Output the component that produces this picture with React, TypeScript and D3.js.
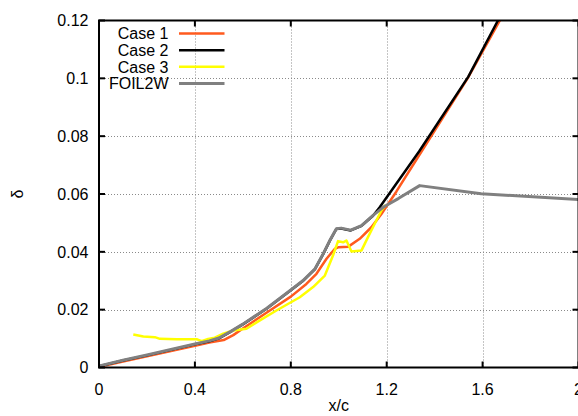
import React from "react";
import * as d3 from "d3";

// Boundary-layer thickness δ along the chord, x/c
type Pt = [number, number];

const case1: Pt[] = [
  [0, 0.0002], [0.1, 0.0021], [0.2, 0.0039], [0.3, 0.0057], [0.4, 0.0075],
  [0.46, 0.0086], [0.52, 0.0095], [0.56, 0.0112], [0.6, 0.0135], [0.7, 0.019],
  [0.8, 0.0245], [0.865, 0.0289], [0.907, 0.0324], [0.949, 0.0376], [0.983, 0.041],
  [1.0, 0.0416], [1.04, 0.0418], [1.0875, 0.0445], [1.136, 0.0485], [1.178, 0.0531],
  [1.24, 0.0608], [1.34, 0.074], [1.5375, 0.1], [1.672, 0.12], [1.75, 0.1315],
];

const case2: Pt[] = [
  [0, 0.0004], [0.1, 0.0024], [0.2, 0.0042], [0.3, 0.0061], [0.4, 0.008],
  [0.46, 0.0091], [0.5, 0.0101], [0.55, 0.0124], [0.6, 0.0149], [0.7, 0.0204],
  [0.8, 0.0267], [0.85, 0.0299], [0.9, 0.0339], [0.935, 0.0392], [0.9625, 0.0438],
  [0.99, 0.0479], [1.01, 0.0481], [1.05, 0.0474], [1.095, 0.049], [1.143, 0.0525],
  [1.17, 0.0553], [1.335, 0.0747], [1.54, 0.1005], [1.664, 0.12], [1.74, 0.1315],
];

const case3: Pt[] = [
  [0.143, 0.0114], [0.185, 0.0107], [0.233, 0.0105], [0.254, 0.0099], [0.324, 0.0098],
  [0.407, 0.0098], [0.428, 0.0091], [0.455, 0.0099], [0.483, 0.0103], [0.518, 0.0117],
  [0.56, 0.0128], [0.615, 0.0134], [0.671, 0.0163], [0.74, 0.0197], [0.8375, 0.0243],
  [0.893, 0.0278], [0.942, 0.0318], [0.976, 0.0387], [0.997, 0.0437], [1.018, 0.0433],
  [1.032, 0.0439], [1.053, 0.0401], [1.095, 0.0405], [1.122, 0.0451], [1.15, 0.0497],
  [1.178, 0.0543], [1.195, 0.0562],
];

const foil2w: Pt[] = [
  [0, 0.0005], [0.1, 0.0025], [0.2, 0.0043], [0.3, 0.0062], [0.4, 0.0081],
  [0.46, 0.0092], [0.5, 0.0102], [0.55, 0.0125], [0.6, 0.015], [0.7, 0.0205],
  [0.8, 0.0268], [0.85, 0.03], [0.9, 0.034], [0.935, 0.0393], [0.9625, 0.0439],
  [0.99, 0.048], [1.01, 0.0482], [1.05, 0.0475], [1.095, 0.0491], [1.143, 0.0526],
  [1.185, 0.0554], [1.25, 0.0585], [1.3375, 0.0629], [1.594, 0.0601], [2.0, 0.0581],
];

const xTicks = [0, 0.4, 0.8, 1.2, 1.6, 2];
const xTickLabels = ["0", "0.4", "0.8", "1.2", "1.6", "2"];
const yTicks = [0, 0.02, 0.04, 0.06, 0.08, 0.1, 0.12];
const yTickLabels = ["0", "0.02", "0.04", "0.06", "0.08", "0.1", "0.12"];

const seriesNames = ["Case 1", "Case 2", "Case 3", "FOIL2W"];
const seriesData = [case1, case2, case3, foil2w];
const seriesColors = ["#ff5a1e", "#000000", "#ffff00", "#808080"];

const W = 578;
const H = 416;
const left = 99;
const right = 578.5;
const top = 20.5;
const bottom = 367.5;
const font = "'Liberation Sans', Arial, Helvetica, sans-serif";

export default function App() {
  const x = d3.scaleLinear().domain([0, 2]).range([left, right]);
  const y = d3.scaleLinear().domain([0, 0.12]).range([bottom, top]);
  const line = d3
    .line<Pt>()
    .x((d) => x(d[0]))
    .y((d) => y(d[1]));

  const tickLen = 6;

  return (
    <svg
      width={W}
      height={H}
      style={{ position: "absolute", left: 0, top: 0, background: "#fff" }}
      fontFamily={font}
    >
      <defs>
        <clipPath id="plot-area">
          <rect x={left} y={top} width={right - left} height={bottom - top} />
        </clipPath>
      </defs>

      {/* grid */}
      <g stroke="#8a8a8a" strokeWidth={1} strokeDasharray="1,2">
        {xTicks
          .filter((t) => t > 0 && t < 2)
          .map((t) => (
            <line key={"gx" + t} x1={Math.round(x(t)) + 0.5} x2={Math.round(x(t)) + 0.5} y1={top} y2={bottom} />
          ))}
        {yTicks
          .filter((t) => t > 0 && t < 0.12)
          .map((t) => (
            <line key={"gy" + t} x1={left} x2={right} y1={Math.round(y(t)) + 0.5} y2={Math.round(y(t)) + 0.5} />
          ))}
      </g>

      {/* series */}
      <g clipPath="url(#plot-area)" fill="none" strokeLinejoin="round">
        {seriesData.map((data, i) => (
          <path key={seriesNames[i]} d={line(data) ?? ""} stroke={seriesColors[i]} strokeWidth={i === 3 ? 3 : 2.5} />
        ))}
      </g>

      {/* frame */}
      <rect x={left} y={top} width={right - left} height={bottom - top} fill="none" stroke="#000" strokeWidth={2} />

      {/* ticks, mirrored on all four sides */}
      <g stroke="#000" strokeWidth={2}>
        {xTicks.map((t) => (
          <g key={"tx" + t}>
            <line x1={x(t)} x2={x(t)} y1={bottom} y2={bottom - tickLen} />
            <line x1={x(t)} x2={x(t)} y1={top} y2={top + tickLen} />
          </g>
        ))}
        {yTicks.map((t) => (
          <g key={"ty" + t}>
            <line x1={left} x2={left + tickLen} y1={y(t)} y2={y(t)} />
            <line x1={right} x2={right - tickLen} y1={y(t)} y2={y(t)} />
          </g>
        ))}
      </g>

      {/* tick labels */}
      <g fontSize={16} fill="#000">
        {xTicks.map((t, i) => (
          <text key={"lx" + t} x={x(t)} y={395} textAnchor="middle">
            {xTickLabels[i]}
          </text>
        ))}
        {yTicks.map((t, i) => (
          <text key={"ly" + t} x={88.5} y={y(t)} dy="0.36em" textAnchor="end">
            {yTickLabels[i]}
          </text>
        ))}
      </g>

      {/* axis titles */}
      <text x={(left + right) / 2} y={411} textAnchor="middle" fontSize={16}>
        x/c
      </text>
      <text
        transform={`translate(23, ${(top + bottom) / 2}) rotate(-90)`}
        textAnchor="middle"
        fontSize={16}
      >
        δ
      </text>

      {/* legend */}
      <g fontSize={16}>
        {seriesNames.map((name, i) => {
          const ly = 33.5 + i * 16.67;
          return (
            <g key={"lg" + name}>
              <text x={168.5} y={ly} dy="0.36em" textAnchor="end">
                {name}
              </text>
              <line x1={179} x2={224.5} y1={ly} y2={ly} stroke={seriesColors[i]} strokeWidth={i === 3 ? 3 : 2.5} />
            </g>
          );
        })}
      </g>
    </svg>
  );
}
